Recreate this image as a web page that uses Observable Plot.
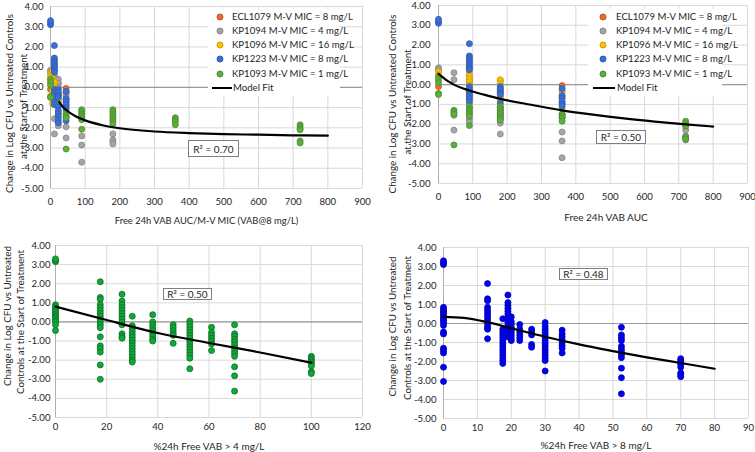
<!DOCTYPE html>
<html>
<head>
<meta charset="utf-8">
<script src="https://cdn.jsdelivr.net/npm/d3@7"></script>
<script src="https://cdn.jsdelivr.net/npm/@observablehq/plot@0.6"></script>
<style>
  body { margin: 0; background: #fff; font-family: Lato, "Open Sans", sans-serif; }
  #wrap { position: relative; width: 755px; height: 452px; overflow: hidden; background: #fff; }
  .panel { position: absolute; }
  .legend { position: absolute; background: #fff; }
  .lg-text { position: absolute; font-size: 9.6px; color: #262626; white-space: nowrap; transform: translateY(-50%); line-height: 12px; }
  .lg-dot { position: absolute; width: 5px; height: 5px; border-radius: 50%; transform: translate(-50%, -50%); }
  .lg-line { position: absolute; height: 2px; background: #000; transform: translateY(-50%); }
  .r2 { position: absolute; border: 1px solid #7f7f7f; background: #fff; font-size: 10px; color: #262626;
        display: flex; align-items: center; justify-content: center; box-sizing: border-box; white-space: nowrap; }
</style>
</head>
<body>
<div id="wrap"></div>
<script>
// ---------------- data ----------------
const strains = ["ECL1079 M-V MIC = 8 mg/L", "KP1094 M-V MIC = 4 mg/L", "KP1096 M-V MIC = 16 mg/L",
                 "KP1223 M-V MIC = 8 mg/L", "KP1093 M-V MIC = 1 mg/L"];
const strainMIC = [8, 4, 16, 8, 1];
const strainFill = ["#EE6A2C", "#A5A5A5", "#FFC000", "#3A6FD8", "#5DAE3C"];

// [free 24h VAB AUC, change in log CFU]
const ecl1079 = [[0,-0.1],[90,0.0],[90,-0.3],[90,-0.6],[180,0.2],[180,-0.3],[360,-0.05],[360,-0.3],[360,-0.6],[360,-0.9]];
const kp1094 = [[0,0.85],[0,0.75],[45,0.6],[45,0.25],[45,-1.55],[45,-2.3],
  [90,0.4],[90,0.2],[90,0.0],[90,-0.3],[90,-0.5],[90,-0.7],[90,-0.95],[90,-1.75],[90,-1.9],
  [180,-0.2],[180,-0.4],[180,-0.6],[180,-0.75],[180,-1.95],[180,-2.5],
  [360,-2.4],[360,-2.85],[360,-3.7],[720,-2.3],[720,-2.6],[720,-2.7],[720,-2.8]];
const kp1096 = [[0,0.65],[0,0.5],[90,0.8],[90,0.6],[90,0.45],[90,0.3],[90,0.15],[90,0.0],[90,-0.2],[90,-0.5],[90,-0.8],
  [180,0.25],[180,0.05],[180,-0.2],[180,-0.45],[180,-0.7],[180,-0.85],
  [360,-0.4],[360,-0.65],[360,-0.95],[360,-1.25]];
const kp1223 = [[0,3.1],[0,3.2],[0,3.3],
  [90,2.07],[90,1.45],[90,1.35],[90,1.25],[90,1.15],[90,1.05],[90,0.95],[90,0.85],[90,0.75],
  [90,-0.1],[90,-0.25],[90,-0.4],[90,-0.55],[90,-0.7],[90,-0.85],
  [180,-0.1],[180,-0.25],[180,-0.4],[180,-0.5],[180,-0.95],[180,-1.15],[180,-1.3],[180,-1.45],[180,-1.6],[180,-1.75],
  [360,-0.2],[360,-0.55],[360,-0.7],[360,-0.85],[360,-1.0],[360,-1.1],[360,-1.5],[360,-1.65]];
const kp1093 = [[0,0.4],[0,0.25],[0,0.1],[0,-0.45],[0,-0.5],
  [45,-1.3],[45,-1.4],[45,-1.5],[45,-3.05],
  [90,-1.1],[90,-1.2],[90,-1.3],[90,-1.4],[90,-1.5],[90,-1.6],[90,-2.07],
  [180,-1.1],[180,-1.2],[180,-1.3],[180,-1.4],[180,-1.5],[180,-1.6],[180,-1.7],[180,-1.8],
  [360,-1.5],[360,-1.6],[360,-1.7],[360,-1.85],
  [720,-1.85],[720,-1.95],[720,-2.05],[720,-2.1],[720,-2.65],[720,-2.75]];
const strainPoints = [ecl1079, kp1094, kp1096, kp1223, kp1093];

// Panel 3: %24h free VAB > 4 mg/L
const t4Cols = [0, 17.5, 26, 30, 38, 46, 52.5, 61, 70, 100];
const t4Vals = [
  [3.15,3.22,3.3,0.9,0.8,0.7,0.6,0.5,0.4,0.3,0.2,0.1,0.0,-0.15,-0.45],
  [2.1,1.28,1.18,0.9,0.75,0.6,0.45,0.3,0.15,0.0,-0.15,-0.3,-0.78,-1.25,-1.4,-1.58,-2.25,-3.0],
  [1.45,1.1,0.9,0.75,0.6,0.45,0.3,0.15,0.0,-0.15,-0.62,-0.75,-0.85],
  [0.3,-0.2,-0.35,-0.5,-0.65,-0.8,-0.95,-1.1,-1.25,-1.4,-1.55,-1.7,-1.85,-2.0,-2.1],
  [0.38,0.0,-0.15,-0.3,-0.45,-0.6,-0.75,-0.9,-1.0],
  [-0.15,-0.3,-0.45,-0.6,-0.7,-1.12],
  [0.05,-0.1,-0.25,-0.4,-0.55,-0.7,-0.85,-1.0,-1.15,-1.3,-1.45,-1.6,-1.75,-1.9,-2.45],
  [-0.28,-0.55,-0.7,-0.85,-1.0,-1.15,-1.5],
  [-0.15,-0.62,-0.75,-0.9,-1.05,-1.2,-1.35,-1.5,-1.65,-1.8,-2.35,-2.82,-3.62],
  [-1.8,-1.9,-2.0,-2.1,-2.2,-2.3,-2.6,-2.7]
];
// Panel 4: %24h free VAB > 8 mg/L
const t8Cols = [0, 13, 17.5, 19, 20, 22.5, 26, 30, 35, 52.5, 70];
const t8Vals = [
  [3.1,3.2,3.3,0.85,0.75,0.65,0.55,0.45,0.35,0.25,0.15,0.05,-0.1,-0.45,-0.55,-1.3,-1.42,-1.55,-2.3,-3.05],
  [2.1,1.3,1.2,0.85,0.7,0.55,0.4,0.25,0.1,-0.05,-0.2,-0.3,-0.8],
  [0.25,-0.3,-0.45,-0.6,-0.75,-0.9,-1.05,-1.2,-1.35,-1.5,-1.65,-1.8,-1.95,-2.1],
  [1.5,1.1,0.95,0.8,0.65,0.5,0.35,0.2,0.05,-0.1,-0.25,-0.4,-0.55,-0.7],
  [0.35,0.1,-0.05,-0.2,-0.35,-0.5,-0.65,-0.8,-0.9],
  [-0.05,-0.3,-0.45,-0.6,-0.75,-0.9],
  [-0.3,-0.45,-0.6,-1.1,-1.25],
  [0.05,-0.15,-0.3,-0.45,-0.6,-0.75,-0.9,-1.05,-1.2,-1.35,-1.5,-1.65,-1.8,-1.95,-2.5],
  [-0.35,-0.55,-0.7,-0.85,-1.0,-1.15,-1.3,-1.55],
  [-0.2,-0.6,-0.75,-0.9,-1.2,-1.35,-1.5,-1.65,-1.8,-2.35,-2.85,-3.7],
  [-1.85,-1.95,-2.05,-2.15,-2.3,-2.6,-2.7,-2.8]
];

// Model fits [x, y]
const fit1 = [[25,-0.72],[35,-0.95],[50,-1.18],[75,-1.45],[100,-1.63],[150,-1.87],[200,-2.02],[300,-2.18],[400,-2.26],[500,-2.31],[600,-2.34],[700,-2.37],[800,-2.39]];
const fit2 = [[0,0.55],[10,0.4],[25,0.2],[45,0.0],[90,-0.3],[135,-0.52],[180,-0.72],[270,-1.02],[360,-1.3],[450,-1.52],[540,-1.71],[630,-1.87],[720,-2.01],[800,-2.12]];
const fit3 = [[0,0.8],[20,0.1],[40,-0.58],[60,-1.1],[80,-1.6],[100,-2.13]];
const fit4 = [[0,0.35],[6,0.3],[13,0.07],[20,-0.25],[30,-0.7],[40,-1.1],[50,-1.45],[60,-1.78],[70,-2.08],[80,-2.38]];

const r2Labels = ["R² = 0.70", "R² = 0.50", "R² = 0.50", "R² = 0.48"];
const yTicks = [-5,-4,-3,-2,-1,0,1,2,3,4];
const xTicksAUC = [0,100,200,300,400,500,600,700,800,900];
const xTicksT4 = [0,20,40,60,80,100,120];
const xTicksT8 = [0,10,20,30,40,50,60,70,80,90];
const yTitleA = ["Change in Log CFU vs Untreated Controls", "at the Start of Treatment"];
const yTitleB = ["Change in Log CFU vs Untreated", "Controls at the Start of Treatment"];
const xTitles = ["Free 24h VAB AUC/M-V MIC (VAB@8 mg/L)", "Free 24h VAB AUC", "%24h Free VAB > 4 mg/L", "%24h Free VAB > 8 mg/L"];

// ---------------- build tables ----------------
const strainRows = strainPoints.flatMap((pts, i) => pts.map(([auc, y]) => ({strain: strains[i], mic: strainMIC[i], auc, y})));
const t4Rows = t4Cols.flatMap((x, i) => t4Vals[i].map(y => ({x, y})));
const t8Rows = t8Cols.flatMap((x, i) => t8Vals[i].map(y => ({x, y})));
const toXY = a => a.map(([x, y]) => ({x, y}));

const wrap = document.getElementById("wrap");
const titleStyle = {fontSize: 9.8, fill: "#262626", textAnchor: "middle", lineAnchor: "middle"};

function panel(cfg) {
  const {left, top, m, xDomain, xTicks, dots, fit, yTitle, ytdx, ytdy, xTitle, xtdx, xtdy, xtSize, padX, padY} = cfg;
  const chart = Plot.plot({
    width: 377, height: 226,
    marginLeft: m[0], marginRight: m[1], marginTop: m[2], marginBottom: m[3],
    style: {fontFamily: "Lato, 'Open Sans', sans-serif", fontSize: "9.6px", color: "#262626", background: "transparent", overflow: "visible"},
    x: {domain: xDomain},
    y: {domain: [-5, 4]},
    color: {domain: strains, range: strainFill},
    marks: [
      Plot.gridX(xTicks, {stroke: "#d9d9d9", strokeOpacity: 1}),
      Plot.gridY(yTicks, {stroke: "#d9d9d9", strokeOpacity: 1}),
      Plot.ruleY([0], {stroke: "#9a9a9a", strokeWidth: 1.2}),
      Plot.ruleX([xDomain[0]], {stroke: "#b0b0b0"}),
      Plot.axisX(xTicks, {tickSize: 0, tickPadding: padX, label: null, tickFormat: d => String(d)}),
      Plot.axisY(yTicks, {tickSize: 0, tickPadding: padY, label: null, tickFormat: d => d.toFixed(2)}),
      dots,
      Plot.line(toXY(fit), {x: "x", y: "y", stroke: "#000", strokeWidth: 2.2, curve: "monotone-x"}),
      Plot.text([yTitle[0]], {frameAnchor: "left", rotate: -90, dx: ytdx[0], dy: ytdy[0], ...titleStyle}),
      Plot.text([yTitle[1]], {frameAnchor: "left", rotate: -90, dx: ytdx[1], dy: ytdy[1], ...titleStyle}),
      Plot.text([xTitle], {frameAnchor: "bottom", dx: xtdx, dy: xtdy, ...titleStyle, fontSize: xtSize})
    ]
  });
  chart.classList.add("panel");
  chart.style.left = left + "px";
  chart.style.top = top + "px";
  wrap.appendChild(chart);
}

const strainDots = xf => Plot.dot(strainRows, {x: xf, y: "y", fill: "strain", stroke: d => d3.color(strainFill[strains.indexOf(d.strain)]).darker(0.6).formatHex(), strokeWidth: 0.8, r: 3});

panel({left: 0, top: 0, m: [50, 15, 6, 38], xDomain: [0, 900], xTicks: xTicksAUC,
  dots: strainDots(d => d.auc / d.mic), fit: fit1, yTitle: yTitleA, ytdx: [-41, -27], ytdy: [6, 9],
  xTitle: xTitles[0], xtdx: 0, xtdy: 32, xtSize: 9.4, padX: 10, padY: 7});
panel({left: 378, top: 0, m: [60, 8, 5, 43], xDomain: [0, 900], xTicks: xTicksAUC,
  dots: strainDots("auc"), fit: fit2, yTitle: yTitleA, ytdx: [-46, -31], ytdy: [9.5, 7.5],
  xTitle: xTitles[1], xtdx: 13, xtdy: 34, xtSize: 10, padX: 10, padY: 8});
panel({left: 0, top: 226, m: [55, 15, 19, 35], xDomain: [0, 120], xTicks: xTicksT4,
  dots: Plot.dot(t4Rows, {x: "x", y: "y", fill: "#10A838", stroke: "#0A6E25", strokeWidth: 0.8, r: 3}),
  fit: fit3, yTitle: yTitleB, ytdx: [-48, -35], ytdy: [-15.5, -9.5],
  xTitle: xTitles[2], xtdx: 0, xtdy: 29, xtSize: 10, padX: 6, padY: 5});
panel({left: 378, top: 226, m: [65, 7, 21, 34], xDomain: [0, 90], xTicks: xTicksT8,
  dots: Plot.dot(t8Rows, {x: "x", y: "y", fill: "#0000F5", stroke: "#0000B0", strokeWidth: 0.8, r: 3}),
  fit: fit4, yTitle: yTitleB, ytdx: [-51, -36], ytdy: [-6.5, -5],
  xTitle: xTitles[3], xtdx: 0, xtdy: 27, xtSize: 10, padX: 6, padY: 7});

// ---------------- legends ----------------
function legend(box, dotX, textX, lineX0, lineX1, fitTextX, row0, step) {
  const lg = document.createElement("div");
  lg.className = "legend";
  Object.assign(lg.style, {left: box[0] + "px", top: box[1] + "px", width: box[2] + "px", height: box[3] + "px"});
  wrap.appendChild(lg);
  strains.forEach((s, i) => {
    const y = row0 + i * step;
    const dot = document.createElement("div");
    dot.className = "lg-dot";
    Object.assign(dot.style, {left: dotX + "px", top: y + "px", background: strainFill[i],
      border: "0.8px solid " + d3.color(strainFill[i]).darker(0.6).formatHex()});
    wrap.appendChild(dot);
    const t = document.createElement("div");
    t.className = "lg-text";
    t.textContent = s;
    Object.assign(t.style, {left: textX + "px", top: y + "px"});
    wrap.appendChild(t);
  });
  const yF = row0 + 5 * step;
  const ln = document.createElement("div");
  ln.className = "lg-line";
  Object.assign(ln.style, {left: lineX0 + "px", width: (lineX1 - lineX0) + "px", top: yF + "px"});
  wrap.appendChild(ln);
  const t = document.createElement("div");
  t.className = "lg-text";
  t.textContent = "Model Fit";
  Object.assign(t.style, {left: fitTextX + "px", top: yF + "px"});
  wrap.appendChild(t);
}
legend([208, 9, 132, 87], 220, 232, 212, 232, 233, 16.7, 14.2);
legend([588, 9, 134, 87], 603, 616, 593, 615, 617, 16.7, 14.2);

// ---------------- R² boxes ----------------
const r2Boxes = [[188, 140, 51, 17], [596, 130, 50, 14], [163, 288, 49, 12], [559, 268, 49, 12]];
r2Boxes.forEach((b, i) => {
  const d = document.createElement("div");
  d.className = "r2";
  d.textContent = r2Labels[i];
  Object.assign(d.style, {left: b[0] + "px", top: b[1] + "px", width: b[2] + "px", height: b[3] + "px"});
  wrap.appendChild(d);
});
</script>
</body>
</html>
